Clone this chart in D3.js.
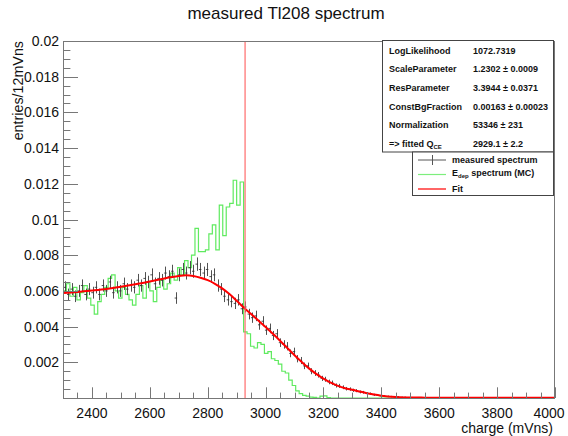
<!DOCTYPE html>
<html><head><meta charset="utf-8">
<script src="https://cdn.jsdelivr.net/npm/d3@7"></script>
<style>body{margin:0;background:#fff}svg{display:block}text{font-family:"Liberation Sans",Arial,Helvetica,sans-serif}</style>
</head><body><svg id="c" width="568" height="436"></svg>
<script>
// ---------- data ----------
const binStart = 2300, binWidth = 12;
const normalization = 53346;
const fittedQ = 2929.1;

const measured = [
 0.0062,0.0058,0.0061,0.0057,0.0060,0.0063,0.0058,0.0061,0.0059,0.0062,
 0.0058,0.0063,0.0060,0.0065,0.0059,0.0062,0.0060,0.0064,0.0061,0.0063,
 0.0062,0.0066,0.0063,0.0067,0.0065,0.0069,0.0064,0.0067,0.0066,0.0070,
 0.0068,0.0071,0.0056,0.0069,0.0072,0.0070,0.0073,0.0071,0.0075,0.0072,
 0.0070,0.0072,0.0068,0.0069,0.0063,0.0061,0.0057,0.0055,0.0054,0.0053,
 0.0055,0.0050,0.0051,0.0047,0.0045,0.0046,0.0041,0.0043,0.0038,0.0039,
 0.0035,0.0036,0.0031,0.0030,0.0029,0.0025,0.0026,0.0022,0.0021,0.0018,
 0.0018,0.0015,0.0014,0.0013,0.0011,0.00105,0.0009,0.00085,0.0007,0.00068,
 0.0006,0.00052,0.0005,0.00043,0.00041,0.00034,0.00032,0.00026,0.00024,0.00018,
 0.00017,0.00012,0.00011,0.00009,0.00008,0.00006,0.00006,0.00004,0.00004,0.00003,
 0.00003,0.00002,0.00003,0.00002,0.00001,0.00002,0.00001,0.00001,0.00002,0.00001,
 0,0.00001,0,0,0.00001,0,0,0,0.00001,0,
 0,0,0,0,0,0,0,0,0,0,
 0,0,0,0,0,0,0,0,0,0,
 0
];

const mcSpectrum = [
 0.0060,0.0064,0.0057,0.0062,0.0055,0.0059,0.0063,0.0056,0.0052,0.0047,
 0.0054,0.0058,0.0062,0.0067,0.0069,0.0060,0.0056,0.0062,0.0058,0.0055,
 0.0052,0.0058,0.0063,0.0056,0.0065,0.0060,0.0054,0.0062,0.0066,0.0061,
 0.0064,0.0070,0.0066,0.0073,0.0069,0.0077,0.0073,0.0080,0.0095,0.0082,
 0.0082,0.0083,0.0092,0.0097,0.0083,0.0108,0.0091,0.0107,0.0109,0.0122,
 0.0108,0.0121,0.0037,0.0036,0.0029,0.0028,0.0031,0.0030,0.0025,0.0026,
 0.0022,0.0021,0.0019,0.0015,0.0014,0.0010,0.0007,0.0004,0.00025,0.00015,
 0.0001,0.00005,0.00003,0,0.0001,0.00012,0.00002,0,0,0,
 0,0,0,0,0,0,0,0,0,0,
 0,0,0,0,0,0,0,0,0,0,
 0,0,0,0,0,0,0,0,0,0,
 0,0,0,0,0,0,0,0,0,0,
 0,0,0,0,0,0,0,0,0,0,
 0,0,0,0,0,0,0,0,0,0,
 0
];

const fitX = [2300,2350,2400,2450,2500,2550,2600,2650,2700,2725,2750,2775,2800,2825,2850,2875,2900,2925,2950,2975,3000,3025,3050,3075,3100,3125,3150,3175,3200,3225,3250,3275,3300,3325,3350,3375,3400,3450,3500,3550,3600,3700,3800,3900,4000];
const fitY = [0.00588,0.00594,0.00602,0.00611,0.00623,0.00637,0.00653,0.00670,0.00683,0.00687,0.00684,0.00674,0.00660,0.00640,0.00614,0.00582,0.00545,0.00506,0.00470,0.00434,0.00398,0.00360,0.00321,0.00280,0.00240,0.00202,0.00166,0.00135,0.00108,0.00086,0.00068,0.00055,0.00046,0.00036,0.00027,0.00019,0.00013,0.00006,0.00003,0.00002,0.000015,0.000012,0.00001,0.00001,0.00001];

const xTicks = [2400,2600,2800,3000,3200,3400,3600,3800,4000];
const yTicks = [0.002,0.004,0.006,0.008,0.01,0.012,0.014,0.016,0.018,0.02];
const yTickLabels = ["0.002","0.004","0.006","0.008","0.01","0.012","0.014","0.016","0.018","0.02"];

const statsLabels = ["LogLikelihood","ScaleParameter","ResParameter","ConstBgFraction","Normalization","=> fitted Q"];
const statsValues = ["1072.7319","1.2302 \u00b1 0.0009","3.3944 \u00b1 0.0371","0.00163 \u00b1 0.00023","53346 \u00b1 231","2929.1 \u00b1 2.2"];

// ---------- layout ----------
const L = 63, R = 555, T = 41, B = 398;
const svg = d3.select("#c");
const x = d3.scaleLinear().domain([2300, 4000]).range([L, R]);
const y = d3.scaleLinear().domain([0, 0.02]).range([B, T]);

svg.append("defs").append("clipPath").attr("id","clip")
  .append("rect").attr("x",L).attr("y",T).attr("width",R-L).attr("height",B-T+1);

const plot = svg.append("g").attr("clip-path","url(#clip)");

// MC histogram (step outline)
const mcPts = mcSpectrum.map((v,i)=>[binStart+i*binWidth, v]);
mcPts.push([binStart+mcSpectrum.length*binWidth, mcSpectrum[mcSpectrum.length-1]]);
plot.append("path")
  .attr("d", d3.line().x(d=>x(d[0])).y(d=>y(d[1])).curve(d3.curveStepAfter)(mcPts))
  .attr("fill","none").attr("stroke","#5fea5f").attr("stroke-width",1.2);

// measured spectrum error bars
const pts = measured.map((v,i)=>({c: binStart+(i+0.5)*binWidth, v, e: Math.sqrt(v/normalization)})).filter(d=>d.v>0);
const gm = plot.append("g").attr("stroke","#333").attr("stroke-width",1).attr("stroke-opacity",0.85);
gm.selectAll("line.v").data(pts).join("line").attr("class","v")
  .attr("x1",d=>Math.round(x(d.c))+0.5).attr("x2",d=>Math.round(x(d.c))+0.5)
  .attr("y1",d=>y(d.v+d.e)).attr("y2",d=>y(Math.max(0,d.v-d.e)));
gm.selectAll("line.h").data(pts).join("line").attr("class","h")
  .attr("x1",d=>x(d.c-binWidth/2)+0.5).attr("x2",d=>x(d.c+binWidth/2)-0.5)
  .attr("y1",d=>y(d.v)).attr("y2",d=>y(d.v));

// fit curve
plot.append("path")
  .attr("d", d3.line().x((d,i)=>x(fitX[i])).y(d=>y(d)).curve(d3.curveMonotoneX)(fitY))
  .attr("fill","none").attr("stroke","#ff0000").attr("stroke-width",2);

// fitted Q line
svg.append("line").attr("x1",x(fittedQ)).attr("x2",x(fittedQ)).attr("y1",T).attr("y2",B)
  .attr("stroke","#ff6b6b").attr("stroke-width",1.2);

// frame
svg.append("rect").attr("x",L+0.5).attr("y",T+0.5).attr("width",R-L-1).attr("height",B-T)
  .attr("fill","none").attr("stroke","#777").attr("stroke-width",1);

// x ticks (inside)
const xMinor = d3.range(2300, 4001, 50);
svg.append("g").selectAll("line").data(xMinor).join("line")
  .attr("x1",d=>Math.round(x(d))+0.5).attr("x2",d=>Math.round(x(d))+0.5)
  .attr("y1",B).attr("y2",d=> (d%200===0) ? B-10.7 : B-5.4)
  .attr("stroke","#777").attr("stroke-width",1);
svg.append("g").selectAll("text").data(xTicks).join("text")
  .attr("x",d=> d===4000 ? x(d)-6 : x(d)).attr("y",418).attr("text-anchor","middle")
  .attr("font-size",14).attr("fill","#111").text(d=>d);

// y ticks (inside)
const yMinor = d3.range(0, 41).map(k=>k*0.0005);
svg.append("g").selectAll("line").data(yMinor).join("line")
  .attr("y1",d=>Math.round(y(d))+0.5).attr("y2",d=>Math.round(y(d))+0.5)
  .attr("x1",L).attr("x2",(d,i)=> (i%4===0) ? L+15 : L+7.4)
  .attr("stroke","#777").attr("stroke-width",1);
svg.append("g").selectAll("text").data(yTicks).join("text")
  .attr("x",59).attr("y",d=>y(d)+5).attr("text-anchor","end")
  .attr("font-size",14).attr("fill","#111").text((d,i)=>yTickLabels[i]);

// axis titles
svg.append("text").attr("x",553).attr("y",433).attr("text-anchor","end")
  .attr("font-size",14).attr("fill","#111").text("charge (mVns)");
svg.append("text").attr("transform","translate(23,41) rotate(-90)").attr("text-anchor","end")
  .attr("font-size",14.3).attr("fill","#111").text("entries/12mVns");

// title
svg.append("text").attr("x",286).attr("y",19).attr("text-anchor","middle")
  .attr("font-size",17).attr("fill","#111").text("measured Tl208 spectrum");

// stats box
const sb = svg.append("g");
sb.append("rect").attr("x",382.5).attr("y",40.5).attr("width",171).attr("height",111.5)
  .attr("fill","#fff").attr("stroke","#444").attr("stroke-width",1);
const rowY = [53.5,72.3,91,109.5,128.3,146.5];
statsLabels.forEach((lab,i)=>{
  const t = sb.append("text").attr("x",389).attr("y",rowY[i]).attr("font-size",9).attr("font-weight","bold").attr("fill","#111");
  t.append("tspan").text(lab);
  if (i===5) t.append("tspan").attr("dy",2.5).attr("font-size",6).text("CE");
  sb.append("text").attr("x",473).attr("y",rowY[i]).attr("font-size",9).attr("font-weight","bold").attr("fill","#111").text(statsValues[i]);
});

// legend
const lg = svg.append("g");
lg.append("rect").attr("x",412.5).attr("y",152).attr("width",141).attr("height",43.5)
  .attr("fill","#fff").attr("stroke","#444").attr("stroke-width",1);
const legY = [160, 174.5, 189];
lg.append("line").attr("x1",418).attr("x2",446).attr("y1",legY[0]).attr("y2",legY[0]).attr("stroke","#555");
lg.append("line").attr("x1",432.5).attr("x2",432.5).attr("y1",legY[0]-5).attr("y2",legY[0]+5).attr("stroke","#555");
lg.append("line").attr("x1",418).attr("x2",446).attr("y1",legY[1]).attr("y2",legY[1]).attr("stroke","#7dee7d").attr("stroke-width",1.2);
lg.append("line").attr("x1",418).attr("x2",446).attr("y1",legY[2]).attr("y2",legY[2]).attr("stroke","#ff0000").attr("stroke-width",1.2);
lg.append("text").attr("x",452).attr("y",legY[0]+3).attr("font-size",9).attr("font-weight","bold").attr("fill","#111").text("measured spectrum");
const et = lg.append("text").attr("x",452).attr("y",legY[1]+1).attr("font-size",9).attr("font-weight","bold").attr("fill","#111");
et.append("tspan").text("E");
et.append("tspan").attr("dy",2.5).attr("font-size",6).text("dep");
et.append("tspan").attr("dy",-2.5).text(" spectrum (MC)");
lg.append("text").attr("x",452).attr("y",legY[2]+3).attr("font-size",9).attr("font-weight","bold").attr("fill","#111").text("Fit");
</script>
</body></html>
